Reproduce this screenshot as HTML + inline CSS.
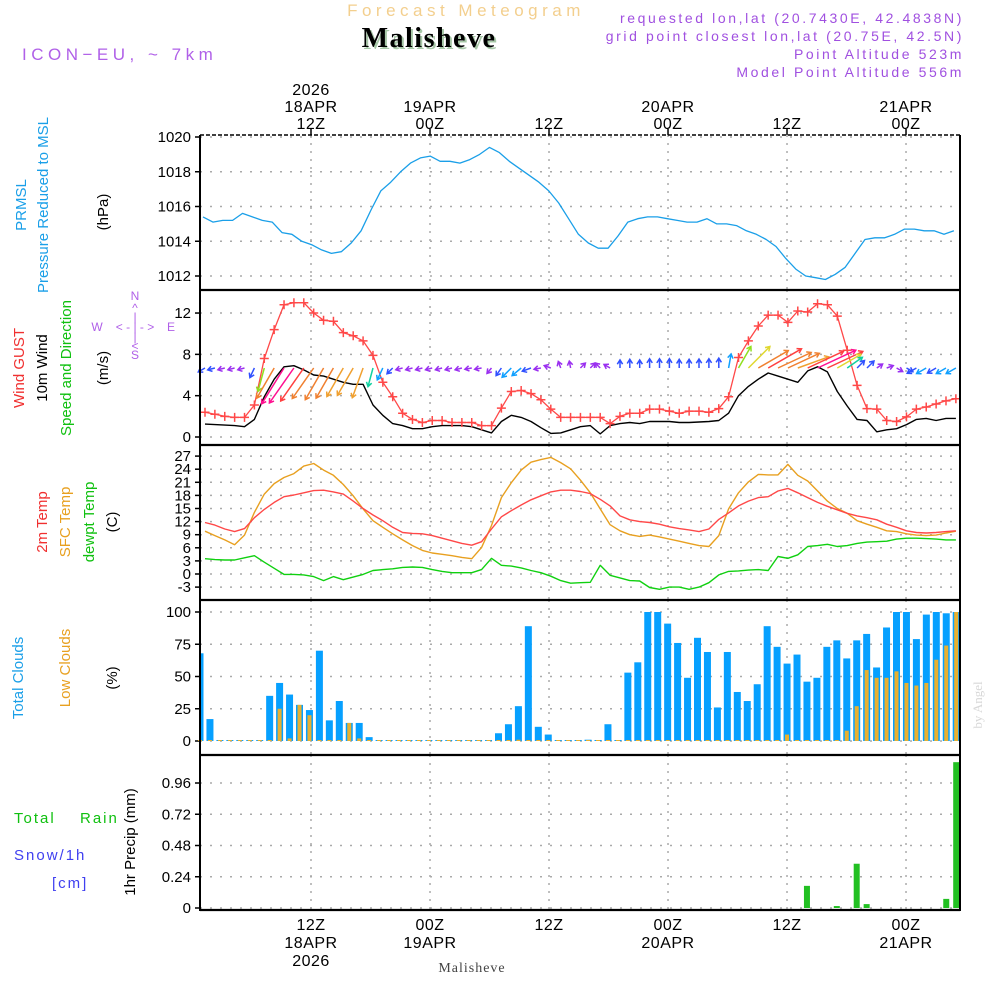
<!DOCTYPE html>
<html><head><meta charset="utf-8"><title>Meteogram Malisheve</title>
<style>
html,body{margin:0;padding:0;background:#fff;}
svg{display:block;font-family:"Liberation Sans",sans-serif;}
</style></head>
<body>
<svg id="chart" width="1000" height="1000" viewBox="0 0 1000 1000" xmlns="http://www.w3.org/2000/svg">
<rect x="0" y="0" width="1000" height="1000" fill="#fff"/>
<g>
<text x="466" y="16" text-anchor="middle" font-size="17" fill="#f3cf8e" letter-spacing="4.5">Forecast Meteogram</text>
<text x="431" y="49" text-anchor="middle" font-size="28" font-weight="bold" font-family="Liberation Serif, serif" fill="#a8c8a8" letter-spacing="1.5">Malisheve</text>
<text x="429" y="47" text-anchor="middle" font-size="28" font-weight="bold" font-family="Liberation Serif, serif" fill="#000" letter-spacing="1.5">Malisheve</text>
<text x="22" y="60" font-size="17" fill="#b060e8" letter-spacing="4.5">ICON−EU, ~ 7km</text>
<text x="964" y="23" text-anchor="end" font-size="14" fill="#a050e0" letter-spacing="2.6">requested lon,lat (20.7430E, 42.4838N)</text>
<text x="964" y="41" text-anchor="end" font-size="14" fill="#a050e0" letter-spacing="2.6">grid point closest lon,lat (20.75E, 42.5N)</text>
<text x="964" y="59" text-anchor="end" font-size="14" fill="#a050e0" letter-spacing="2.6">Point Altitude 523m</text>
<text x="964" y="77" text-anchor="end" font-size="14" fill="#a050e0" letter-spacing="2.6">Model Point Altitude 556m</text>
</g>
<g font-size="15">
<text transform="translate(26,205) rotate(-90)" text-anchor="middle" fill="#1a9fe8">PRMSL</text>
<text transform="translate(48,205) rotate(-90)" text-anchor="middle" fill="#1a9fe8">Pressure Reduced to MSL</text>
<text transform="translate(108,212) rotate(-90)" text-anchor="middle" fill="#000">(hPa)</text>
<text transform="translate(24,368) rotate(-90)" text-anchor="middle" fill="#f03030">Wind GUST</text>
<text transform="translate(47,368) rotate(-90)" text-anchor="middle" fill="#000">10m Wind</text>
<text transform="translate(71,368) rotate(-90)" text-anchor="middle" fill="#10c010">Speed and Direction</text>
<text transform="translate(108,368) rotate(-90)" text-anchor="middle" fill="#000">(m/s)</text>
<g font-size="12" fill="#b060e8">
<text x="135" y="300" text-anchor="middle">N</text>
<text x="135" y="312" text-anchor="middle">^</text>
<text x="135" y="321" text-anchor="middle">|</text>
<text x="97" y="331" text-anchor="middle">W</text>
<text x="135" y="331" text-anchor="middle">&lt; - | - &gt;</text>
<text x="171" y="331" text-anchor="middle">E</text>
<text x="135" y="341" text-anchor="middle">|</text>
<text x="135" y="350" text-anchor="middle">&lt;</text>
<text x="135" y="359" text-anchor="middle">S</text>
</g>
<text transform="translate(47,522) rotate(-90)" text-anchor="middle" fill="#f03030">2m Temp</text>
<text transform="translate(70,522) rotate(-90)" text-anchor="middle" fill="#e8a020">SFC Temp</text>
<text transform="translate(94,522) rotate(-90)" text-anchor="middle" fill="#10c010">dewpt Temp</text>
<text transform="translate(117,522) rotate(-90)" text-anchor="middle" fill="#000">(C)</text>
<text transform="translate(23,678) rotate(-90)" text-anchor="middle" fill="#1a9fe8">Total Clouds</text>
<text transform="translate(70,668) rotate(-90)" text-anchor="middle" fill="#e8a020">Low Clouds</text>
<text transform="translate(117,678) rotate(-90)" text-anchor="middle" fill="#000">(%)</text>
<text x="14" y="823" fill="#10c010" font-size="15" letter-spacing="2">Total</text>
<text x="80" y="823" fill="#10c010" font-size="15" letter-spacing="2">Rain</text>
<text x="14" y="860" fill="#4040f0" font-size="15" letter-spacing="2">Snow/1h</text>
<text x="52" y="888" fill="#4040f0" font-size="15" letter-spacing="2">[cm]</text>
<text transform="translate(135,842) rotate(-90)" text-anchor="middle" fill="#000">1hr Precip (mm)</text>
</g>
<text transform="translate(982,705) rotate(-90)" text-anchor="middle" font-size="13" font-family="Liberation Serif, serif" fill="#d8d8d8">by Angel</text>
<text x="472" y="972" text-anchor="middle" font-size="14" font-family="Liberation Serif, serif" fill="#444" letter-spacing="1">Malisheve</text>
<g id="plot"></g>
</svg>
<script>
const timeTickHours = [12, 24, 36, 48, 60, 72];
const timeTickTop = [["2026","18APR","12Z"],["19APR","00Z"],["12Z"],["20APR","00Z"],["12Z"],["21APR","00Z"]];
const timeTickBottom = [["12Z","18APR","2026"],["00Z","19APR"],["12Z"],["00Z","20APR"],["12Z"],["00Z","21APR"]];
const pressure = [1015.4,1015.1,1015.2,1015.2,1015.6,1015.4,1015.2,1015.1,1014.5,1014.4,1014.0,1013.8,1013.5,1013.3,1013.4,1013.9,1014.6,1015.8,1016.9,1017.4,1018.0,1018.5,1018.8,1018.9,1018.6,1018.6,1018.5,1018.7,1019.0,1019.4,1019.1,1018.6,1018.2,1017.8,1017.4,1016.9,1016.2,1015.3,1014.4,1013.9,1013.6,1013.6,1014.3,1015.1,1015.3,1015.4,1015.4,1015.3,1015.2,1015.1,1015.1,1015.3,1015.0,1015.0,1014.9,1014.6,1014.4,1014.1,1013.7,1013.0,1012.4,1012.0,1011.9,1011.8,1012.1,1012.5,1013.3,1014.1,1014.2,1014.2,1014.4,1014.7,1014.7,1014.6,1014.6,1014.4,1014.6];
const pressureTicks = [1012,1014,1016,1018,1020];
const gust = [2.4,2.2,2.0,1.9,1.9,3.1,7.6,10.4,12.8,13,13,12,11.3,11.2,10.1,9.8,9.3,7.9,5.3,3.9,2.3,1.7,1.4,1.6,1.6,1.4,1.4,1.4,1.1,1.1,2.8,4.4,4.5,4.2,3.6,2.7,1.9,1.9,1.9,1.9,1.9,1.3,2.0,2.3,2.3,2.7,2.7,2.5,2.3,2.5,2.5,2.4,2.75,3.9,7.7,9.3,10.75,11.8,11.8,11.1,12.2,12.1,12.9,12.8,11.7,8.4,5.0,2.75,2.7,1.6,1.5,1.95,2.7,2.9,3.2,3.5,3.7];
const wind = [1.25,1.2,1.15,1.1,1.0,1.7,3.9,5.6,6.8,6.9,6.5,6.0,5.9,5.6,5.3,5.1,5.1,3.1,2.1,1.3,1.1,0.8,0.8,1.0,1.1,1.1,1.1,1.0,0.7,0.4,1.5,2.1,1.9,1.5,0.9,0.35,0.4,0.7,1.0,1.1,0.3,1.1,1.3,1.4,1.3,1.5,1.5,1.5,1.4,1.4,1.45,1.5,1.6,2.3,4.0,4.9,5.6,6.2,5.9,5.6,5.3,6.4,6.8,6.3,4.4,3.0,1.7,1.6,0.5,0.7,0.8,1.2,1.7,1.8,1.6,1.8,1.8];
const windDir = [60,75,75,75,75,25,15,30,32,35,35,35,30,30,30,30,20,15,25,45,75,75,75,75,75,75,75,80,80,40,35,45,50,70,80,110,160,170,225,225,135,120,180,180,180,180,180,180,180,180,180,180,180,190,210,225,240,240,245,245,250,245,245,245,240,235,225,225,235,250,300,300,60,60,60,60,60];
const windTicks = [0,4,8,12];
const t2m = [11.8,11.2,10.3,9.7,10.4,12.9,14.8,16.4,17.7,18.1,18.6,19.1,19.2,18.8,18.3,16.7,15.0,13.5,12.2,10.7,9.5,9.3,9.2,8.8,8.2,7.6,7.0,6.6,7.4,10.3,13.1,14.5,15.8,17.0,17.9,18.8,19.2,19.2,18.9,18.4,17.1,15.6,13.3,12.4,12.0,11.8,11.4,10.8,10.4,10.1,9.7,10.3,12.5,14.0,15.6,16.7,17.5,17.7,19.0,19.6,18.6,17.5,16.4,15.5,14.7,13.9,13.3,12.9,12.4,11.4,10.7,9.9,9.5,9.4,9.5,9.7,9.9];
const sfcTemp = [9.8,8.8,7.8,6.7,8.9,14.1,18.3,20.7,22.1,23.0,24.7,25.3,23.8,22.6,20.5,17.9,14.9,12.2,10.7,9.2,7.8,6.5,5.4,4.8,4.5,4.2,3.8,3.5,6.1,11.1,17.5,20.9,23.8,25.6,26.2,26.7,25.5,24.1,21.5,18.6,14.9,11.3,9.9,9.0,8.6,8.9,8.5,8.0,7.5,7.0,6.5,6.3,8.8,14.9,18.6,21.1,22.8,22.7,22.7,25.1,22.6,21.3,19.0,16.7,15.0,13.9,12.2,11.4,10.7,9.9,9.7,9.2,8.9,8.8,8.9,9.4,9.8];
const dewpt = [3.5,3.3,3.2,3.2,3.7,4.2,2.7,1.3,-0.1,-0.1,-0.2,-0.6,-1.5,-0.6,-1.3,-0.7,-0.1,0.8,1.0,1.2,1.5,1.6,1.5,1.0,0.6,0.3,0.3,0.3,1.0,3.6,2.0,1.8,1.4,0.8,0.3,-0.5,-1.5,-2.1,-2.0,-1.9,2.0,-0.3,-0.9,-1.5,-1.6,-3.1,-3.5,-3.0,-3.0,-3.5,-3.0,-2.0,-0.2,0.6,0.7,0.9,1.0,0.8,4.0,3.6,4.4,6.3,6.5,6.8,6.3,6.5,7.0,7.3,7.4,7.5,8.0,8.2,8.2,8.1,8.0,7.8,7.8];
const tempTicks = [-3,0,3,6,9,12,15,18,21,24,27];
const totalClouds = [68,17,0,0,0,0,0,35,45,36,28,24,70,16,31,14,14,3,0,0,0,0,0,0,0,0,0,0,0,0,6,13,27,89,11,5,0,0,0,1,0,13,0,53,61,100,100,91,76,49,80,69,26,69,38,31,44,89,73,60,67,46,49,73,78,64,78,83,57,88,100,100,79,98,100,99,100];
const lowClouds = [0,0,0,0,0,0,0,0,25,2,28,20,0,0,0,14,2,0,0,0,0,0,0,0,0,0,0,0,0,0,0,0,1,0,0,0,0,0,0,0,0,0,0,0,0,0,0,0,0,0,0,0,0,0,0,0,0,0,0,5,0,0,0,0,0,8,27,55,49,49,54,45,43,45,63,74,100];
const cloudTicks = [0,25,50,75,100];
const precip = [0,0,0,0,0,0,0,0,0,0,0,0,0,0,0,0,0,0,0,0,0,0,0,0,0,0,0,0,0,0,0,0,0,0,0,0,0,0,0,0,0,0,0,0,0,0,0,0,0,0,0,0,0,0,0,0,0,0,0,0,0,0.17,0,0,0.015,0,0.34,0.03,0,0,0,0,0,0,0,0.07,1.12];
const precipTicks = [0,0.24,0.48,0.72,0.96];
const precipTickLabels = ["0","0.24","0.48","0.72","0.96"];

const NS = "http://www.w3.org/2000/svg";
const plot = document.getElementById("plot");
const XL = 200, XR = 960;
function xHour(h){ return 311 + (h - 12) * 9.917; }
function xIdx(k){ return 205 + k * 9.88; }
function xBar(i){ return 200 + i * 9.95; }
function yP(v){ return 276 - (v - 1012) * 17.375; }
function yW(v){ return 437 - v * 10.33; }
function yT(v){ return 574 - v * 4.367; }
function yC(v){ return 741 - v * 1.29; }
function yR(v){ return 908 - v * 130.2; }
const panels = [[135,290],[290,445],[445,600],[600,755],[755,910]];

function mk(tag, attrs, parent){
  const e = document.createElementNS(NS, tag);
  for (const a in attrs) e.setAttribute(a, attrs[a]);
  (parent || plot).appendChild(e);
  return e;
}
function txt(x, y, s, attrs){
  const e = mk("text", Object.assign({x:x, y:y}, attrs||{}));
  e.textContent = s;
  return e;
}

timeTickHours.forEach(function(h){
  const x = xHour(h);
  panels.forEach(function(p){
    const g = mk("line", {x1:x, x2:x, y1:p[0], y2:p[1], stroke:"#aaa", "stroke-width":1.5, "stroke-dasharray":"2,6"});
    
    
  });
});
function yAxis(ticks, scale, labels){
  ticks.forEach(function(t, i){
    const y = scale(t);
    const g = mk("line", {x1:XL, x2:XR, y1:y, y2:y, stroke:"#aaa", "stroke-width":1.5, "stroke-dasharray":"2,8"});
    
    
    const tk = mk("line", {x1:XL-5, x2:XL, y1:y, y2:y, stroke:"#000", "stroke-width":1.5});
    
    
    const l = txt(XL-9, y+5, labels ? labels[i] : String(t), {"text-anchor":"end", "font-size":15, fill:"#000"});
    
    
  });
}
yAxis(pressureTicks, yP);
yAxis(windTicks, yW);
yAxis(tempTicks, yT);
yAxis(cloudTicks, yC);
yAxis(precipTicks, yR, precipTickLabels);

timeTickHours.forEach(function(h, i){
  const x = xHour(h);
  const top = timeTickTop[i];
  top.forEach(function(s, j){
    const t = txt(x, 129 - (top.length - 1 - j) * 17, s, {"text-anchor":"middle", "font-size":16, fill:"#000", "letter-spacing":0.5});
    
    
  });
  timeTickBottom[i].forEach(function(s, j){
    const t = txt(x, 930 + j * 18, s, {"text-anchor":"middle", "font-size":16, fill:"#000", "letter-spacing":0.5});
    
    
  });
  const tk = mk("line", {x1:x, x2:x, y1:135, y2:129, stroke:"#000", "stroke-width":1.5});
  
  
});

function polyline(values, xf, yf, color, w, name){
  const pts = values.map(function(v, k){ return xf(k).toFixed(1) + "," + yf(v).toFixed(1); }).join(" ");
  const p = mk("polyline", {points:pts, fill:"none", stroke:color, "stroke-width":w, "stroke-linejoin":"round"});
  
  
  return p;
}

polyline(pressure, function(k){ return xIdx(k) - 2; }, yP, "#1a9fe8", 1.3, "pressure-line");

polyline(wind, xIdx, yW, "#000", 1.4, "wind-speed-line");
polyline(gust, xIdx, yW, "#ff4848", 1.3, "gust-line");
gust.forEach(function(v, k){
  const x = xIdx(k), y = yW(v);
  const m = mk("path", {d:"M"+(x-4.5)+","+y+"h9M"+x+","+(y-4.5)+"v9", stroke:"#ff4848", "stroke-width":1.5, fill:"none"});
  
  
});
function windColor(s){
  if (s < 1.2) return "#9b30f0";
  if (s < 1.8) return "#3050ff";
  if (s < 2.5) return "#10a0ff";
  if (s < 3.5) return "#10d0a0";
  if (s < 4.3) return "#90e020";
  if (s < 5.0) return "#e0d830";
  if (s < 5.5) return "#f0a030";
  if (s < 6.2) return "#f08030";
  if (s < 6.6) return "#ff4040";
  return "#ff1090";
}
wind.forEach(function(s, k){
  const dir = windDir[k] * Math.PI / 180;
  const L = Math.max(7, s * 6.2);
  const x0 = xIdx(k), y0 = 368;
  const dx = -Math.sin(dir) * L, dy = Math.cos(dir) * L;
  const x1 = x0 + dx, y1 = y0 + dy;
  const ang = Math.atan2(dy, dx);
  const hl = 5;
  const a1 = ang + Math.PI * 0.82, a2 = ang - Math.PI * 0.82;
  const d = "M"+x0.toFixed(1)+","+y0+"L"+x1.toFixed(1)+","+y1.toFixed(1)+
    "M"+(x1+Math.cos(a1)*hl).toFixed(1)+","+(y1+Math.sin(a1)*hl).toFixed(1)+"L"+x1.toFixed(1)+","+y1.toFixed(1)+
    "L"+(x1+Math.cos(a2)*hl).toFixed(1)+","+(y1+Math.sin(a2)*hl).toFixed(1);
  const a = mk("path", {d:d, stroke:windColor(s), "stroke-width":1.5, fill:"none"});
  
  
});

polyline(sfcTemp, xIdx, yT, "#e8a020", 1.4, "sfc-temp-line");
polyline(t2m, xIdx, yT, "#ff4848", 1.4, "t2m-line");
polyline(dewpt, xIdx, yT, "#10d010", 1.4, "dewpt-line");

totalClouds.forEach(function(v, i){
  const x = xBar(i), y = yC(v);
  const h = Math.max(1, yC(0) - y);
  const r = mk("rect", {x:Math.max(XL, x-3.5), y:yC(0)-h, width: x-3.5 < XL ? x+3.5-XL : 7, height:h, fill:"#06a0ff"});
  
  
});
lowClouds.forEach(function(v, i){
  const x = xBar(i);
  const h = Math.max(1, yC(0) - yC(v));
  const r = mk("rect", {x:x-2, y:yC(0)-h, width:4, height:h, fill:"#e8b030"});
  
  
});

precip.forEach(function(v, i){
  if (v <= 0) return;
  const x = xBar(i);
  const h = Math.max(1, yR(0) - yR(v));
  const r = mk("rect", {x:x-3, y:yR(0)-h, width:6, height:h, fill:"#22c022"});
  
  
});

const topB = mk("line", {x1:XL, x2:XR, y1:135, y2:135, stroke:"#000", "stroke-width":1.5, "stroke-dasharray":"4,2"});


[290,445,600,755,910].forEach(function(y){
  const l = mk("line", {x1:XL, x2:XR, y1:y, y2:y, stroke:"#000", "stroke-width":2.2});
  
  
});
const lb = mk("line", {x1:XL, x2:XL, y1:135, y2:911, stroke:"#000", "stroke-width":2});


const rb = mk("line", {x1:XR, x2:XR, y1:135, y2:911, stroke:"#000", "stroke-width":2});


</script>
</body></html>
